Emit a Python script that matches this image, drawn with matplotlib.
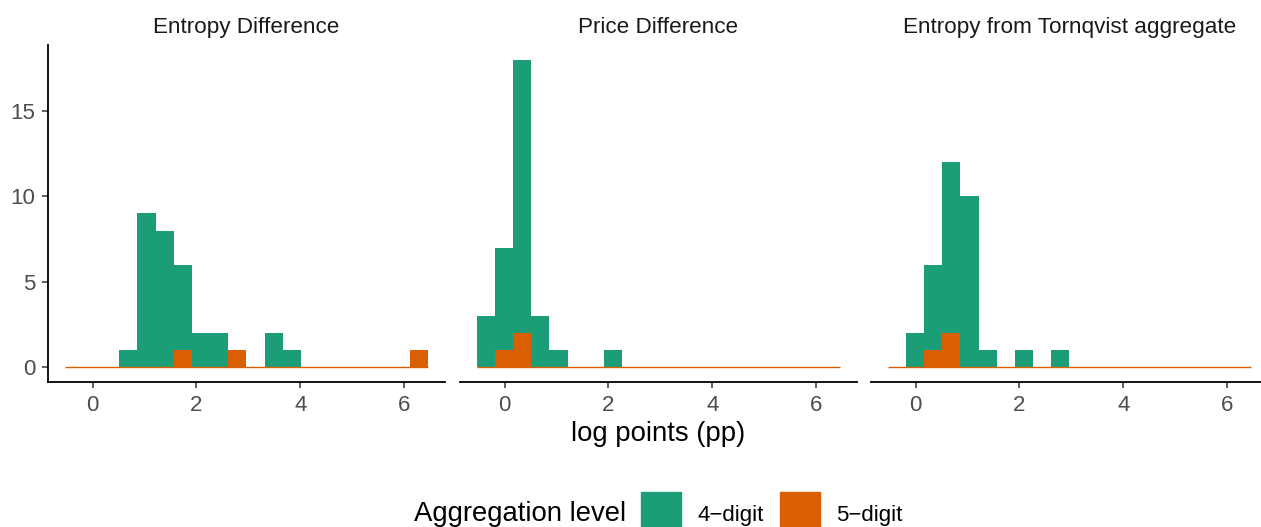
import numpy as np
import matplotlib
matplotlib.use("Agg")
from matplotlib import pyplot as plt
from matplotlib.patches import Rectangle

plt.rcParams['font.family'] = ['Liberation Sans', 'DejaVu Sans']

## data: histogram counts per bin (20 bins), stacked 5-digit under 4-digit
bin_edges = np.linspace(-0.535, 6.46, 21)
panels = ['Entropy Difference', 'Price Difference', 'Entropy from Tornqvist aggregate']

green_entropy = [0, 0, 0, 1, 9, 8, 5, 2, 2, 0, 0, 2, 1, 0, 0, 0, 0, 0, 0, 0]
orange_entropy = [0, 0, 0, 0, 0, 0, 1, 0, 0, 1, 0, 0, 0, 0, 0, 0, 0, 0, 0, 1]
green_price = [3, 6, 16, 3, 1, 0, 0, 1, 0, 0, 0, 0, 0, 0, 0, 0, 0, 0, 0, 0]
orange_price = [0, 1, 2, 0, 0, 0, 0, 0, 0, 0, 0, 0, 0, 0, 0, 0, 0, 0, 0, 0]
green_tornqvist = [0, 2, 5, 10, 10, 1, 0, 1, 0, 1, 0, 0, 0, 0, 0, 0, 0, 0, 0, 0]
orange_tornqvist = [0, 0, 1, 2, 0, 0, 0, 0, 0, 0, 0, 0, 0, 0, 0, 0, 0, 0, 0, 0]

legend_labels = ['4\u2212digit', '5\u2212digit']
colors = ['#1B9E77', '#D95F02']

green_all = [green_entropy, green_price, green_tornqvist]
orange_all = [orange_entropy, orange_price, orange_tornqvist]

W, H = 1261, 527
fig = plt.figure(figsize=(W / 100, H / 100), dpi=100)

lefts = [48, 460, 871]
pw = 397
bottom = 1 - 382 / H
ph = 337 / H

left_edges = bin_edges[:-1]
widths = np.diff(bin_edges)

for i in range(3):
    ax = fig.add_axes([lefts[i] / W, bottom, pw / W, ph])
    g = np.array(green_all[i])
    o = np.array(orange_all[i])
    ax.bar(left_edges, g, widths, bottom=o, align='edge', color=colors[0],
           linewidth=0)
    # empty 5-digit bins show up as a thin orange line on the baseline
    ax.hlines(0, bin_edges[0], bin_edges[-1], color=colors[1], linewidth=1.0)
    ax.bar(left_edges, o, widths, align='edge', color=colors[1],
           linewidth=0)
    ax.set_xlim(-0.86, 6.79)
    ax.set_ylim(-0.9, 18.9)
    ax.set_xticks([0, 2, 4, 6])
    ax.set_yticks([0, 5, 10, 15])
    for s in ['top', 'right']:
        ax.spines[s].set_visible(False)
    ax.spines['bottom'].set_linewidth(1.3)
    ax.spines['left'].set_linewidth(1.3)
    ax.tick_params(axis='both', colors='#333333', labelcolor='#4D4D4D',
                   labelsize=16, length=4, width=1.1)
    ax.tick_params(axis='x', pad=5.5)
    ax.tick_params(axis='y', pad=5)
    if i > 0:
        ax.spines['left'].set_visible(False)
        ax.tick_params(axis='y', left=False, labelleft=False)
    fig.text((lefts[i] + pw / 2) / W, 1 - 33 / H, panels[i], ha='center',
             va='baseline', fontsize=16.2, color='#1A1A1A')

fig.text(658 / W, 1 - 441 / H, 'log points (pp)', ha='center',
         va='baseline', fontsize=19.8, color='black')

# legend at bottom
fig.text(414 / W, 1 - 521 / H, 'Aggregation level', ha='left',
         va='baseline', fontsize=19.8)
key_x = [641, 780]
lab_x = [697, 836]
for k in range(2):
    fig.add_artist(Rectangle((key_x[k] / W, 1 - 532 / H), 40 / W, 40 / H,
                             transform=fig.transFigure, color=colors[k]))
    fig.text(lab_x[k] / W, 1 - 521 / H, legend_labels[k], ha='left',
             va='baseline', fontsize=16)

plt.savefig('out.png', dpi=100)
